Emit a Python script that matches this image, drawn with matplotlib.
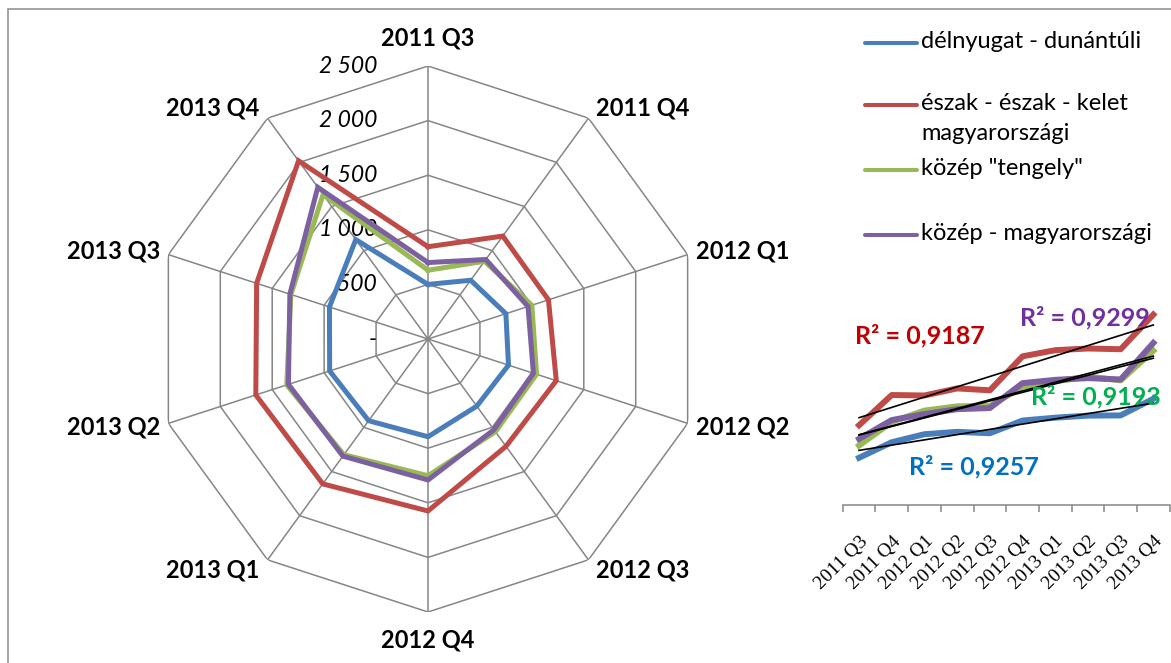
import numpy as np
import matplotlib
matplotlib.use("Agg")
import matplotlib.pyplot as plt
from matplotlib.lines import Line2D
from matplotlib.patches import Rectangle

plt.rcParams['font.family'] = ['Lato', 'DejaVu Sans']

quarters = ["2011 Q3", "2011 Q4", "2012 Q1", "2012 Q2", "2012 Q3",
            "2012 Q4", "2013 Q1", "2013 Q2", "2013 Q3", "2013 Q4"]
names = ["délnyugat - dunántúli", "észak - észak - kelet\nmagyarországi",
         "közép \"tengely\"", "közép - magyarországi"]
delnyugat = [500, 665, 750, 775, 760, 895, 925, 947, 949, 1125]
eszak = [845, 1165, 1160, 1235, 1215, 1575, 1640, 1658, 1650, 2017]
kozep_tengely = [630, 880, 1000, 1045, 1050, 1252, 1310, 1360, 1320, 1635]
kozep_magyar = [700, 900, 963, 1015, 1027, 1291, 1326, 1344, 1330, 1717]
r_squared = ["R² = 0,9257", "R² = 0,9187", "R² = 0,9193", "R² = 0,9299"]
rings = [0, 500, 1000, 1500, 2000, 2500]
ring_labels = ["-", "500", "1 000", "1 500", "2 000", "2 500"]

series = [delnyugat, eszak, kozep_tengely, kozep_magyar]
colors = ["#4A7EBB", "#BE4B48", "#98B954", "#7D60A0"]
r2_colors = ["#0070C0", "#C00000", "#00B050", "#7030A0"]
grid_c = "#868686"

fig = plt.figure(figsize=(11.71, 6.63), dpi=100)

# radar part
ax = fig.add_axes([155 / 1171, 51 / 663, 546 / 1171, 546 / 663], projection="polar")
ax.set_theta_zero_location("N")
ax.set_theta_direction(-1)
ax.set_ylim(0, 2500)
ax.grid(False)
ax.spines["polar"].set_visible(False)
ax.set_xticks([])
ax.set_yticks([])
ax.patch.set_alpha(0)

theta = np.linspace(0, 2 * np.pi, len(quarters), endpoint=False)
theta_c = np.append(theta, theta[0])

for r in rings[1:]:
    ax.plot(theta_c, [r] * len(theta_c), color=grid_c, lw=1.1, zorder=1)
for t in theta:
    ax.plot([t, t], [0, 2500], color=grid_c, lw=1.1, zorder=1)

for r, lab in zip(rings, ring_labels):
    ax.annotate(lab, xy=(0, r), xytext=(-51, 0), textcoords="offset pixels",
                ha="right", va="center", fontsize=16.5, style="italic", zorder=2)

for t, q in zip(theta, quarters):
    s = np.sin(t)
    c = np.cos(t)
    if abs(s) < 0.01:
        ha, dx, dy = "center", 0, 28 * np.sign(c)
    else:
        ha = "left" if s > 0 else "right"
        dx, dy = 8 * np.sign(s), 12 * c
    ax.annotate(q, xy=(t, 2500), xytext=(dx, dy), textcoords="offset pixels",
                ha=ha, va="center", fontsize=17, fontweight="bold")

for vals, col in zip(series, colors):
    ax.plot(theta_c, vals + vals[:1], color=col, lw=3.6, zorder=3,
            solid_joinstyle="miter")

# legend
leg_y = [43, 105, 170, 235]
for name, col, y in zip(names, colors, leg_y):
    fig.add_artist(Line2D([865 / 1171, 917 / 1171], [1 - y / 663, 1 - y / 663],
                          color=col, lw=2.9, solid_capstyle="round"))
    fig.text(921 / 1171, 1 - (y - 12) / 663, name, ha="left", va="top",
             fontsize=17, linespacing=1.5)

# small line chart with trendlines
ax2 = fig.add_axes([842.7 / 1171, 158 / 663, 327 / 1171, 236 / 663])
x = np.arange(len(quarters))
for vals, col in zip(series, colors):
    ax2.plot(x, vals, color=col, lw=4.3, zorder=2)
for vals in series:
    k, b = np.polyfit(x, vals, 1)
    ax2.plot(x, k * x + b, color="black", lw=1.2, zorder=3)

r2_pos = [(3.5, 403), (1.86, 1790), (7.25, 1144), (6.9, 1980)]
for txt, col, (px, py) in zip(r_squared, r2_colors, r2_pos):
    ax2.text(px, py, txt, color=col, fontsize=18, fontweight="bold",
             ha="center", va="center", zorder=4)

ax2.set_xlim(-0.5, 9.5)
ax2.set_ylim(0, 2500)
ax2.set_yticks([])
for sp in ["left", "right", "top"]:
    ax2.spines[sp].set_visible(False)
ax2.spines["bottom"].set_color(grid_c)
ax2.spines["bottom"].set_linewidth(1.1)
ax2.set_xticks(x)
ax2.set_xticklabels(quarters, rotation=45, ha="right", rotation_mode="anchor",
                    family="Liberation Serif", fontsize=14)
ax2.tick_params(axis="x", which="major", length=0, pad=20)
ax2.set_xticks(np.arange(-0.5, 10, 1), minor=True)
ax2.tick_params(axis="x", which="minor", length=5, color=grid_c, width=1.1)
ax2.patch.set_alpha(0)

# outer frame
fig.add_artist(Rectangle((8 / 1171, -0.1), 1.2, 1.1 - 9 / 663, fill=False,
                         edgecolor="#8C8C8C", lw=1.1, transform=fig.transFigure,
                         clip_on=False))

fig.savefig("out.png", dpi=100)
